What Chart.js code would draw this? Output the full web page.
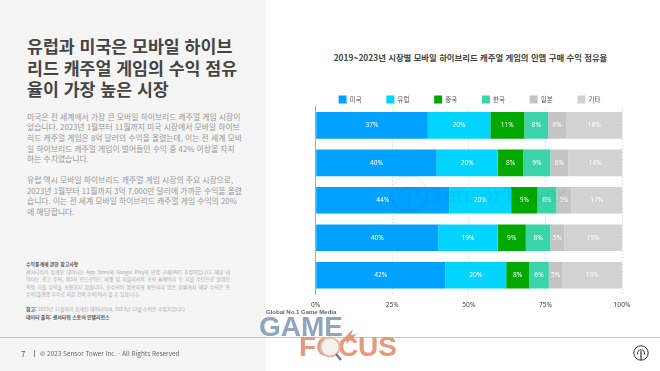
<!DOCTYPE html>
<html lang="ko">
<head>
<meta charset="utf-8">
<title>시장별 인앱 구매 수익 점유율</title>
<script src="https://cdn.jsdelivr.net/npm/chart.js@4"></script>
<style>
  html, body { margin: 0; padding: 0; background: #fff; }
  body { width: 660px; height: 371px; position: relative; overflow: hidden; font-family: "Noto Sans CJK KR", "Noto Sans", sans-serif; }
  .abs { position: absolute; white-space: nowrap; }
  #panel { position: absolute; left: 0; top: 0; width: 266px; height: 371px; background: #f5f5f5; }
  #rule { position: absolute; left: 0; top: 337px; width: 660px; height: 1px; background: #c4c4c4; }
  #salesChart { position: absolute; left: 0; top: 0; }
  .line { position: absolute; left: 27px; white-space: nowrap; transform: translateY(-50%); }
  .just { text-align: justify; text-align-last: justify; }
  .body { font-size: 7.8px; color: #979797; width: 201px; }
  .note { font-size: 4.9px; color: #a8a8a8; width: 204px; left: 26px; }
  .head { font-size: 17.3px; font-weight: 700; color: #444; width: 204px; }
</style>
</head>
<body>
<div id="panel"></div>
<div id="rule"></div>
<div id="leftText"></div>

<div class="abs" style="left:332px;top:50px;width:277px;font-size:8.4px;font-weight:700;color:#444;line-height:14px;text-align:center;">2019~2023년 시장별 모바일 하이브리드 캐주얼 게임의 인앱 구매 수익 점유율</div>

<canvas id="salesChart" width="660" height="371"></canvas>

<!-- faint watermark over the bars -->
<svg class="abs" style="left:388px;top:173px" width="42" height="42" viewBox="0 0 42 42" fill="none" stroke="rgba(0,50,110,0.05)">
  <circle cx="21" cy="21" r="18" stroke-width="2.5"/>
  <path d="M11 24a10 10 0 1 1 20 0" stroke-width="2.5"/>
  <path d="M21 18v20" stroke-width="3"/>
</svg>
<div class="abs" style="left:432px;top:180px;font:700 21px 'Noto Sans',sans-serif;color:rgba(0,50,110,0.05);">SensorTower</div>

<!-- logo -->
<div class="abs" style="left:266px;top:309px;font:700 6px 'Liberation Sans',sans-serif;color:#666;">Global No.1 Game Media</div>
<div class="abs" style="left:259px;top:311px;font:700 28px/32px 'Liberation Sans',sans-serif;color:#8ea5bf;">GAME</div>
<div class="abs" style="left:299px;top:331px;font:700 28px/32px 'Liberation Sans',sans-serif;color:#e6987c;">FOCUS</div>
<svg class="abs" style="left:315px;top:322px" width="44" height="46" viewBox="0 0 44 46" fill="none">
  <path d="M28 17l10-10-2 6 6-1-11 10 1-6z" fill="#e6987c"/>
  <circle cx="15" cy="25" r="9.5" fill="#f4f1ef" stroke="#e6b9a6" stroke-width="2"/>
  <path d="M21 32l5 6" stroke="#777" stroke-width="2.4"/>
</svg>

<!-- footer -->
<div class="abs" style="left:21px;top:347px;font-size:8px;line-height:14px;color:#555;">7</div>
<div class="abs" style="left:34px;top:350px;width:1px;height:7px;background:#888;"></div>
<div class="abs" style="left:40px;top:347px;font-size:6.4px;line-height:14px;color:#666;">© 2023 Sensor Tower Inc. - All Rights Reserved</div>
<svg class="abs" style="left:632px;top:344px" width="18" height="18" viewBox="0 0 18 18" fill="none" stroke="#333">
  <circle cx="9" cy="9" r="7.2" stroke-width="1"/>
  <path d="M5.6 10.5a3.6 3.6 0 1 1 6.8 0" stroke-width="1"/>
  <path d="M9 7v9" stroke-width="1.2"/>
</svg>

<script>
// Share of in-app purchase revenue by market (%)
const years = ['2019', '2020', '2021', '2022', '2023'];
const markets = ['미국', '유럽', '중국', '한국', '일본', '기타'];
const usValues = [36.6, 39.5, 43.6, 40.0, 42.3];
const europeValues = [20.4, 19.9, 20.2, 19.4, 19.9];
const chinaValues = [11.1, 8.4, 8.6, 9.2, 7.5];
const koreaValues = [7.8, 8.8, 6.2, 8.0, 6.4];
const japanValues = [5.9, 5.9, 4.9, 4.6, 4.5];
const otherValues = [18.2, 17.5, 16.5, 18.8, 19.4];
const marketColors = ['#00a2ff', '#00d4ff', '#00a800', '#3bd4a8', '#c4c4c4', '#d2d2d2'];
const percentTicks = [0, 25, 50, 75, 100];

// Left column text, one entry per printed line
const headingLines = ['유럽과 미국은 모바일 하이브', '리드 캐주얼 게임의 수익 점유', '율이 가장 높은 시장'];
const bodyLines = [
  '미국은 전 세계에서 가장 큰 모바일 하이브리드 캐주얼 게임 시장이',
  '었습니다. 2023년 1월부터 11월까지 미국 시장에서 모바일 하이브',
  '리드 캐주얼 게임은 8억 달러의 수익을 올렸는데, 이는 전 세계 모바',
  '일 하이브리드 캐주얼 게임이 벌어들인 수익 중 42% 이상을 차지',
  '하는 수치였습니다.',
  '유럽 역시 모바일 하이브리드 캐주얼 게임 시장의 주요 시장으로,',
  '2023년 1월부터 11월까지 3억 7,000만 달러에 가까운 수익을 올렸',
  '습니다. 이는 전 세계 모바일 하이브리드 캐주얼 게임 수익의 20%',
  '에 해당합니다.'
];
const noteLines = [
  '센서타워가 집계한 데이터는 App Store와 Google Play의 인앱 구매(IAP) 추정치입니다. 해당 데',
  '이터는 광고 수익, 제3자 안드로이드 마켓 및 퍼블리셔의 공식 홈페이지 등 지불 수단으로 발생한',
  '직접 지불 수익을 포함하지 않습니다. 순수익이 명확하게 확인되지 않은 상황에서 해당 수익은 총',
  '수익(플랫폼 수수료 차감 전의 수익)이라 볼 수 있습니다.'
];

function addLine(text, cls, y, justify, style) {
  const el = document.createElement('div');
  el.className = 'line ' + cls + (justify ? ' just' : '');
  el.style.top = y + 'px';
  if (style) el.style.cssText += style;
  el.textContent = text;
  document.getElementById('leftText').appendChild(el);
  return el;
}

const headingY = [45, 66.5, 88];
headingLines.forEach((t, i) => addLine(t, 'head', headingY[i], i < 2));
const bodyY = [115.7, 126.3, 136.9, 147.5, 158.1, 179, 189.6, 200.2, 210.8];
const bodyJustified = [true, true, true, true, false, true, true, true, false];
bodyLines.forEach((t, i) => addLine(t, 'body', bodyY[i], bodyJustified[i]));
addLine('수익통계에 관한 참고사항', 'note', 263, false, 'font-weight:700;color:#555;');
const noteY = [270.5, 278, 285.5, 293];
noteLines.forEach((t, i) => addLine(t, 'note', noteY[i], i < 3));
addLine('', 'note', 308, false).innerHTML = '<b style="color:#555">참고:</b> 2023년 11월까지 집계된 데이터이며, 2023년 12월 수익은 추정치입니다';
addLine('데이터 출처: 센서타워 스토어 인텔리전스', 'note', 315.5, false, 'font-weight:700;color:#555;');

// Legend needs wide item padding on one row but a short box, so adjust its fit
const trimLegend = {
  id: 'trimLegend',
  beforeInit(chart) {
    const fit = chart.legend.fit;
    chart.legend.fit = function () {
      this.maxWidth = 340;
      fit.call(this);
      this.height = 36;
    };
  },
  afterLayout(chart) {
    chart.legend.left -= 5;
    chart.legend.right += 8;
  }
};

// White percent labels centred in each segment
const segmentLabels = {
  id: 'segmentLabels',
  afterDatasetsDraw(chart) {
    const c = chart.ctx;
    c.save();
    c.font = '6.6px "Noto Sans", sans-serif';
    c.fillStyle = '#fff';
    c.textAlign = 'center';
    c.textBaseline = 'middle';
    chart.data.datasets.forEach((ds, i) => {
      chart.getDatasetMeta(i).data.forEach((bar, j) => {
        const p = bar.getProps(['x', 'y', 'base'], true);
        c.fillText(Math.round(ds.data[j]) + '%', (p.x + p.base) / 2, p.y);
      });
    });
    c.restore();
  }
};

const seriesValues = [usValues, europeValues, chinaValues, koreaValues, japanValues, otherValues];
const tickFont = { family: '"Noto Sans", sans-serif', size: 6.6 };

new Chart(document.getElementById('salesChart').getContext('2d'), {
  type: 'bar',
  data: {
    labels: years,
    datasets: markets.map((m, i) => ({
      label: m,
      data: seriesValues[i],
      backgroundColor: marketColors[i],
      borderWidth: 0,
      barPercentage: 0.71,
      categoryPercentage: 1
    }))
  },
  options: {
    indexAxis: 'y',
    responsive: false,
    animation: false,
    layout: { padding: { left: 314, right: 38, top: 70.6, bottom: 57 } },
    plugins: {
      title: { display: false },
      tooltip: { enabled: false },
      legend: {
        position: 'top',
        labels: {
          boxWidth: 8,
          boxHeight: 8,
          padding: 24.8,
          color: '#555',
          font: { family: '"Noto Sans CJK KR", sans-serif', size: 6.4 }
        }
      }
    },
    scales: {
      x: {
        stacked: true,
        min: 0,
        max: 100,
        afterFit: (s) => { s.height = 20; },
        afterBuildTicks: (s) => { s.ticks = percentTicks.map((v) => ({ value: v })); },
        grid: { color: '#dcdcdc', drawTicks: false, tickLength: 0 },
        border: { display: false, dash: [1.5, 2] },
        ticks: {
          color: '#444',
          font: tickFont,
          padding: 7,
          maxRotation: 0,
          callback: (v) => v + '%'
        }
      },
      y: {
        stacked: true,
        afterFit: (s) => { s.width = 1.7; },
        grid: { display: false, drawTicks: false },
        border: { display: true, color: '#a8a8a8', width: 1 },
        ticks: { color: '#444', font: tickFont, padding: 6.5 }
      }
    }
  },
  plugins: [trimLegend, segmentLabels]
});
</script>
</body>
</html>
